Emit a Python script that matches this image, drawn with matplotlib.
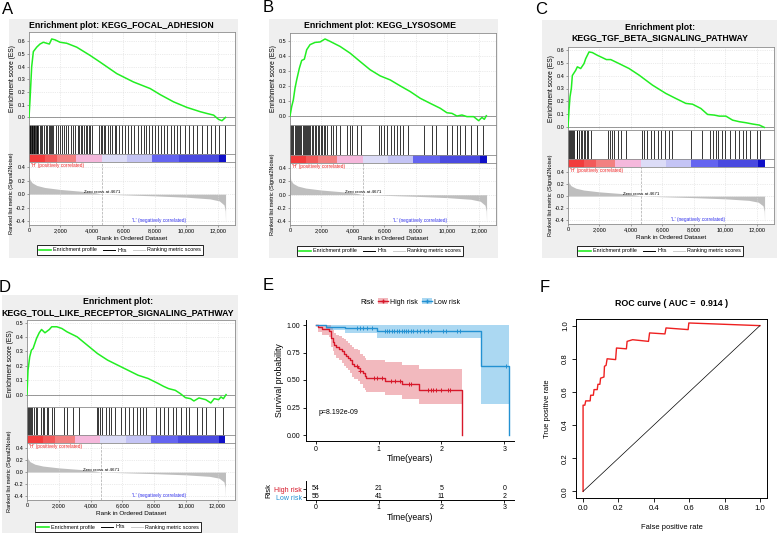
import numpy as np
import matplotlib
matplotlib.use('Agg')
import matplotlib.pyplot as plt
from matplotlib.patches import Rectangle, Patch
from matplotlib.lines import Line2D
from matplotlib.ticker import FixedLocator, FixedFormatter

W, H = 779, 534
plt.rcParams['font.family'] = ['Liberation Sans', 'DejaVu Sans']

# ---------------- GSEA data ----------------
rank_ticks = [0, 2000, 4000, 6000, 8000, 10000, 12000]
rank_tick_labels = ['0', '2,000', '4,000', '6,000', '8,000', '10,000', '12,000']
zero_cross = 4671

metric_rank = [0, 50, 200, 500, 1000, 2000, 3000, 4000, 4671, 6000, 8000, 10000, 11500, 12100, 12400, 12480, 12500]
metric_val = [0.30, 0.22, 0.17, 0.13, 0.10, 0.07, 0.05, 0.03, 0.0, -0.01, -0.025, -0.045, -0.07, -0.10, -0.16, -0.25, -0.42]

cb_edges = [0, 1000, 1750, 3020, 4620, 6220, 7815, 9520, 12075, 12500]
cb_colors = ['#f23c3c', '#f25a5a', '#f28080', '#f5b8dc', '#dcdcf7', '#c4c4f5', '#6464f0', '#4a4ae0', '#1010c8']

title_A = ['Enrichment plot: KEGG_FOCAL_ADHESION']
es_rank_A = [0, 64, 170, 276, 490, 700, 913, 1125, 1295, 1444, 1656, 1975, 2400, 3036, 3885, 4522, 5584, 6645, 7707, 8344, 9193, 10042, 10892, 11316, 11741, 12059, 12272, 12500]
es_val_A = [0, 0.136, 0.40, 0.52, 0.555, 0.58, 0.594, 0.586, 0.58, 0.62, 0.613, 0.594, 0.586, 0.555, 0.49, 0.437, 0.346, 0.28, 0.228, 0.18, 0.123, 0.079, 0.045, 0.031, 0.018, -0.016, -0.026, 0.0]
hits_A = [10, 40, 80, 120, 160, 200, 240, 290, 330, 380, 430, 480, 540, 600, 700, 780, 850, 950, 1050,
          1150, 1250, 1350, 1420, 1480, 1550, 1700, 1850, 1950, 2100, 2250, 2350, 2500, 2650, 2800, 2950,
          3100, 3150, 3300, 3400, 3500, 3600, 3700, 3800, 3900, 4000, 4450, 4550, 4650, 4750, 4850, 5000,
          5150, 5300, 5450, 5550, 5700, 5900, 6100, 6300, 6500, 6700, 6900, 7100, 7300, 7450, 7600, 7800,
          8000, 8200, 8400, 8600, 8800, 9000, 9200, 9400, 9600, 9900, 10200, 10400, 10700, 11000, 11300,
          11600, 11800, 12100, 12450]

title_B = ['Enrichment plot: KEGG_LYSOSOME']
es_rank_B = [0, 106, 212, 318, 425, 594, 743, 913, 1062, 1274, 1592, 1911, 2229, 2548, 3185, 3822, 4459, 5096, 5732, 6369, 7006, 7643, 8280, 8917, 9554, 9979, 10297, 10616, 10934, 11253, 11677, 11996, 12208, 12357, 12484]
es_val_B = [0, 0.063, 0.108, 0.186, 0.242, 0.32, 0.372, 0.381, 0.444, 0.478, 0.493, 0.496, 0.516, 0.50, 0.466, 0.421, 0.365, 0.31, 0.269, 0.242, 0.202, 0.164, 0.119, 0.085, 0.052, 0.022, 0.018, 0.0, 0.007, -0.004, -0.004, -0.031, -0.009, -0.022, 0.002]
hits_B = [20, 80, 150, 220, 300, 360, 420, 500, 560, 650, 720, 800, 870, 950, 1000, 1080, 1150, 1230,
          1300, 1400, 1480, 1560, 1650, 1750, 1850, 1950, 2050, 2150, 2250, 2330, 2600, 2750, 2900, 3200,
          3650, 3800, 3950, 4250, 4500, 5650, 5800, 6000, 6200, 6400, 6600, 6800, 7000, 7200, 7500, 8500,
          9050, 9300, 10000, 10300, 10600, 10800, 11100, 11500, 11900, 12300]

title_C = ['Enrichment plot:', 'KEGG_TGF_BETA_SIGNALING_PATHWAY']
es_rank_C = [0, 64, 127, 212, 276, 488, 594, 807, 1019, 1125, 1338, 1550, 1868, 2187, 2442, 2718, 3248, 3885, 4522, 5372, 6221, 6858, 7495, 7919, 8450, 8875, 9299, 9618, 10042, 10467, 10892, 11316, 11741, 12166, 12484]
es_val_C = [0, 0.133, 0.236, 0.30, 0.40, 0.44, 0.467, 0.454, 0.492, 0.53, 0.582, 0.577, 0.556, 0.538, 0.523, 0.523, 0.492, 0.454, 0.403, 0.326, 0.262, 0.223, 0.185, 0.179, 0.146, 0.10, 0.095, 0.087, 0.087, 0.056, 0.044, 0.036, 0.026, 0.018, 0.0]
hits_C = [20, 70, 110, 160, 230, 300, 400, 550, 600, 700, 800, 900, 1000, 1100, 1200, 1300, 1450, 2550,
          2650, 2800, 2950, 3200, 3400, 3700, 4700, 4850, 5000, 5300, 5500, 5700, 5900, 6150, 6400, 6600,
          7800, 8500, 9000, 9200, 9400, 9550, 9800, 10000, 10300, 10600, 10900, 11100, 11300, 11600, 12000, 12200]

title_D = ['Enrichment plot:', 'KEGG_TOLL_LIKE_RECEPTOR_SIGNALING_PATHWAY']
es_rank_D = [0, 64, 171, 277, 384, 597, 768, 917, 1130, 1407, 1557, 1876, 2196, 2516, 3156, 3795, 4435, 5075, 5714, 6354, 6994, 7633, 8273, 8593, 8913, 9339, 9659, 9979, 10299, 10512, 10832, 11258, 11578, 11791, 12068, 12217, 12367, 12537]
es_val_D = [0, 0.17, 0.263, 0.309, 0.321, 0.39, 0.43, 0.453, 0.43, 0.453, 0.472, 0.472, 0.46, 0.437, 0.402, 0.344, 0.286, 0.24, 0.205, 0.17, 0.135, 0.112, 0.077, 0.058, 0.042, 0.03, 0.007, -0.021, -0.028, -0.044, -0.023, -0.035, -0.058, -0.028, -0.035, -0.016, -0.028, 0.0]
hits_D = [0, 60, 120, 180, 250, 320, 420, 550, 650, 900, 1000, 1100, 1250, 1350, 1550, 1700, 2350, 2550,
          2900, 3300, 4400, 4500, 4600, 4750, 5000, 5150, 5300, 5550, 5900, 6200, 6450, 6700, 6900, 7100,
          7300, 7500, 8100, 8400, 8600, 8900, 9200, 9400, 9700, 10000, 10200, 10700, 11000, 11300, 11850, 12350]

# ---------------- KM data ----------------
red_time = [0, 0.037, 0.105, 0.21, 0.237, 0.25, 0.27, 0.295, 0.33, 0.37, 0.42, 0.447, 0.48, 0.51, 0.54, 0.58, 0.615, 0.67, 0.71, 0.75, 0.78, 0.805, 1.105, 1.37, 1.65, 2.33]
red_surv = [1.0, 0.98, 0.963, 0.945, 0.91, 0.88, 0.85, 0.82, 0.80, 0.78, 0.76, 0.74, 0.72, 0.70, 0.68, 0.65, 0.63, 0.61, 0.58, 0.56, 0.54, 0.515, 0.49, 0.465, 0.41, 0.0]
red_upper = [1.0, 1.0, 1.0, 1.0, 0.99, 0.97, 0.95, 0.93, 0.91, 0.90, 0.88, 0.87, 0.85, 0.84, 0.82, 0.80, 0.78, 0.77, 0.74, 0.72, 0.70, 0.68, 0.66, 0.64, 0.60, 0.60]
red_lower = [1.0, 0.94, 0.91, 0.89, 0.84, 0.80, 0.76, 0.73, 0.70, 0.68, 0.65, 0.63, 0.61, 0.59, 0.56, 0.53, 0.51, 0.49, 0.46, 0.43, 0.41, 0.39, 0.36, 0.33, 0.28, 0.28]
red_censor = [0.66, 0.71, 0.92, 0.97, 1.05, 1.2, 1.26, 1.34, 1.48, 1.51, 1.79, 1.84, 1.87, 1.92, 2.0, 2.1, 2.13]

blue_time = [0, 0.16, 0.47, 0.97, 2.63, 3.08]
blue_surv = [1.0, 0.98, 0.97, 0.945, 0.63, 0.0]
blue_upper = [1.0, 1.0, 1.0, 1.0, 1.0, 1.0]
blue_lower = [1.0, 0.955, 0.924, 0.879, 0.28, 0.28]
blue_censor = [0.66, 0.71, 0.76, 0.82, 0.89, 1.105, 1.14, 1.17, 1.21, 1.25, 1.29, 1.33, 1.37, 1.41, 1.44,
               1.47, 1.51, 1.55, 1.61, 1.66, 1.72, 1.79, 1.84, 2.03, 2.08, 2.24, 2.29, 3.03]

risk_groups = ['High risk', 'Low risk']
risk_times = [0, 1, 2, 3]
risk_high = [54, 21, 5, 0]
risk_low = [55, 41, 11, 2]
p_text = 'p=8.192e-09'

# ---------------- ROC data ----------------
roc_fpr = [0, 0, 0.01, 0.015, 0.04, 0.043, 0.058, 0.062, 0.08, 0.084, 0.095, 0.099, 0.118, 0.121, 0.13, 0.136, 0.184, 0.189, 0.245, 0.249, 0.28, 0.37, 0.376, 0.463, 0.469, 0.594, 0.598, 1.0]
roc_tpr = [0, 0.52, 0.52, 0.546, 0.546, 0.58, 0.58, 0.614, 0.614, 0.646, 0.646, 0.683, 0.69, 0.755, 0.76, 0.80, 0.795, 0.865, 0.86, 0.905, 0.915, 0.905, 0.956, 0.95, 0.986, 0.976, 1.016, 1.0]
roc_ticks = [0.0, 0.2, 0.4, 0.6, 0.8, 1.0]
auc_text = 'ROC curve ( AUC =  0.914 )'

fig = plt.figure(figsize=(W / 100, H / 100), dpi=100)


def px_axes(x0, y0, x1, y1, **kw):
    return fig.add_axes([x0 / W, 1 - y1 / H, (x1 - x0) / W, (y1 - y0) / H], **kw)


def style_gsea(ax):
    for s in ax.spines.values():
        s.set_color('#8c8c8c')
        s.set_linewidth(0.6)
    ax.tick_params(length=1.5, width=0.5, color='#777777', labelsize=4.0, pad=1)


def gsea_panel(bg, titles, title_y, title_cx, xs, es_y, hit_y, cb_y, met_y, xlabel_pad,
               es_rank, es_val, es_ylim, es_ticks, hits, leg_c):
    # gray background
    fig.patches.append(Rectangle((bg[0] / W, 1 - bg[3] / H), (bg[2] - bg[0]) / W, (bg[3] - bg[1]) / H,
                                 transform=fig.transFigure, facecolor='#efefef', edgecolor='none', zorder=-5))
    for t, ty in zip(titles, title_y):
        fig.text(title_cx / W, 1 - ty / H, t, ha='center', va='center', fontsize=6.3, fontweight='bold')
    xlim = (0, 13100)
    # ES
    ax = px_axes(xs[0], es_y, xs[1], hit_y)
    ax.plot(es_rank, es_val, color='#22ee22', lw=1.1, zorder=3)
    ax.axhline(0, color='#888888', lw=0.6)
    ax.set_xlim(*xlim)
    ax.set_ylim(*es_ylim)
    ax.set_yticks(es_ticks)
    ax.set_yticklabels(['%.1f' % v for v in es_ticks])
    ax.xaxis.set_major_locator(FixedLocator(rank_ticks))
    ax.tick_params(axis='x', labelbottom=False, length=0)
    ax.grid(True, color='#d8d8d8', ls=':', lw=0.5)
    ax.set_ylabel('Enrichment score (ES)', fontsize=4.8, labelpad=1.5)
    style_gsea(ax)
    # hits
    axh = px_axes(xs[0], hit_y, xs[1], cb_y)
    axh.vlines(hits, 0, 1, color='black', lw=0.55)
    axh.set_xlim(*xlim)
    axh.set_ylim(0, 1)
    axh.set_xticks([])
    axh.set_yticks([])
    style_gsea(axh)
    # color bar
    axc = px_axes(xs[0], cb_y, xs[1], cb_y + 8)
    for i, c in enumerate(cb_colors):
        axc.axvspan(cb_edges[i], cb_edges[i + 1], color=c, lw=0)
    axc.set_xlim(*xlim)
    axc.set_xticks([])
    axc.set_yticks([])
    style_gsea(axc)
    # metric
    axm = px_axes(xs[0], cb_y + 8, xs[1], met_y)
    axm.fill_between(metric_rank, 0, metric_val, color='#bebebe', lw=0)
    axm.axvline(zero_cross, color='#aaaaaa', lw=0.5, ls='--')
    axm.set_xlim(*xlim)
    axm.set_ylim(-0.46, 0.48)
    axm.set_yticks([-0.4, -0.2, 0.0, 0.2, 0.4])
    axm.set_yticklabels(['-0.4', '-0.2', '0.0', '0.2', '0.4'])
    axm.xaxis.set_major_locator(FixedLocator(rank_ticks))
    axm.xaxis.set_major_formatter(FixedFormatter(rank_tick_labels))
    axm.grid(True, color='#d8d8d8', ls=':', lw=0.5)
    axm.text(zero_cross, 0.005, 'Zero cross at %d' % zero_cross, ha='center', va='bottom', fontsize=3.2)
    axm.text(150, 0.47, "'H' (positively correlated)", color='#ee2222', ha='left', va='top', fontsize=3.4)
    axm.text(8300, -0.39, "'L' (negatively correlated)", color='#3333ee', ha='center', va='center', fontsize=3.4)
    axm.set_xlabel('Rank in Ordered Dataset', fontsize=4.6, labelpad=xlabel_pad)
    axm.set_ylabel('Ranked list metric (Signal2Noise)', fontsize=4.0, labelpad=1.5)
    style_gsea(axm)
    # legend
    handles = [Line2D([], [], color='#22ee22', lw=1.2), Line2D([], [], color='black', lw=0.7),
               Line2D([], [], color='#cccccc', lw=0.7)]
    fig.legend(handles, ['Enrichment profile', 'Hits', 'Ranking metric scores'], loc='center',
               bbox_to_anchor=(leg_c[0] / W, 1 - leg_c[1] / H), ncol=3, fontsize=3.9, frameon=True,
               fancybox=False, edgecolor='black', framealpha=1, handlelength=2.2, columnspacing=1.2,
               handletextpad=0.4, borderpad=0.4).get_frame().set_linewidth(0.6)


gsea_panel((9, 19, 238, 258), title_A, [25], 121, (29, 235), 32, 125, 154, 225, 2,
           es_rank_A, es_val_A, (-0.06, 0.675), [0.0, 0.1, 0.2, 0.3, 0.4, 0.5, 0.6], hits_A, (120, 250))
gsea_panel((269, 19, 498, 258), title_B, [25], 380, (290, 496), 33, 125, 155, 225, 2,
           es_rank_B, es_val_B, (-0.06, 0.556), [0.0, 0.1, 0.2, 0.3, 0.4, 0.5], hits_B, (380, 251))
gsea_panel((542, 20, 777, 258), title_C, [27, 38], 660, (568, 774), 47, 130, 159, 224, 2,
           es_rank_C, es_val_C, (-0.02, 0.62), [0.0, 0.1, 0.2, 0.3, 0.4, 0.5, 0.6], hits_C, (660, 251))
gsea_panel((2, 295, 238, 533), title_D, [302, 313], 118, (27, 235), 320, 407, 435, 500, 2,
           es_rank_D, es_val_D, (-0.086, 0.519), [0.0, 0.1, 0.2, 0.3, 0.4, 0.5], hits_D, (118, 527))

# ---------------- KM panel E ----------------
RED = '#d7182a'
BLUE = '#2391d2'
axE = px_axes(306, 319.5, 514, 440.5)
axE.fill_between(red_time, red_lower, red_upper, step='post', color=RED, alpha=0.3, lw=0)
axE.fill_between(blue_time, blue_lower, blue_upper, step='post', color='#2e9fdf', alpha=0.4, lw=0)
axE.step(red_time, red_surv, where='post', color=RED, lw=1.0)
axE.step(blue_time, blue_surv, where='post', color=BLUE, lw=1.0)


def surv_at(times, surv, t):
    idx = np.searchsorted(np.array(times), np.array(t), side='right') - 1
    return np.array(surv)[idx]


axE.plot(red_censor, surv_at(red_time, red_surv, red_censor), '+', color=RED, ms=3.5, mew=0.7)
axE.plot(blue_censor, surv_at(blue_time, blue_surv, blue_censor), '+', color=BLUE, ms=3.5, mew=0.7)
axE.text(0.05, 0.2, p_text, fontsize=5, va='center', ha='left')
axE.set_xlim(-0.155, 3.155)
axE.set_ylim(-0.05, 1.05)
axE.set_xticks(risk_times)
axE.set_yticks([0, 0.25, 0.5, 0.75, 1.0])
axE.set_yticklabels(['0.00', '0.25', '0.50', '0.75', '1.00'])
for s in ['top', 'right']:
    axE.spines[s].set_visible(False)
for s in ['left', 'bottom']:
    axE.spines[s].set_linewidth(0.7)
axE.tick_params(labelsize=5, length=2.5, width=0.6, pad=1.5)
axE.set_xlabel('Time(years)', fontsize=6.3, labelpad=1)
axE.set_ylabel('Survival probability', fontsize=6.3, labelpad=2)

fig.text(360 / W, 1 - 302 / H, 'Risk', fontsize=5, ha='left', va='center')
hE = [(Patch(facecolor=RED, alpha=0.3, edgecolor='none'), Line2D([], [], color=RED, marker='+', lw=1.0, ms=3.5)),
      (Patch(facecolor='#2e9fdf', alpha=0.4, edgecolor='none'), Line2D([], [], color=BLUE, marker='+', lw=1.0, ms=3.5))]
fig.legend(hE, risk_groups, loc='center left', bbox_to_anchor=(375 / W, 1 - 302 / H), ncol=2,
           fontsize=5, frameon=False, handlelength=1.4, handleheight=0.9, handletextpad=0.3,
           columnspacing=0.6, borderpad=0)

axT = px_axes(306, 481, 514, 500)
for t, nh, nl in zip(risk_times, risk_high, risk_low):
    axT.text(t, 1, str(nh), ha='center', va='center', fontsize=5)
    axT.text(t, 0, str(nl), ha='center', va='center', fontsize=5)
axT.set_xlim(-0.155, 3.155)
axT.set_ylim(-0.375, 2.0)
axT.set_yticks([1, 0])
axT.set_yticklabels(risk_groups)
for lab, c in zip(axT.get_yticklabels(), [RED, BLUE]):
    lab.set_color(c)
axT.set_xticks(risk_times)
for s in ['top', 'right']:
    axT.spines[s].set_visible(False)
for s in ['left', 'bottom']:
    axT.spines[s].set_linewidth(0.7)
axT.tick_params(labelsize=5, length=2, width=0.6, pad=1)
axT.set_xlabel('Time(years)', fontsize=6.3, labelpad=1)
axT.set_ylabel('Risk', fontsize=5.5, labelpad=1)

# ---------------- ROC panel F ----------------
axF = px_axes(576, 319, 767, 498)
axF.plot(roc_fpr, roc_tpr, color='#ee2020', lw=1.0)
axF.plot([0, 1], [0, 1], color='black', lw=0.5)
axF.set_xlim(-0.04, 1.04)
axF.set_ylim(-0.04, 1.04)
axF.set_xticks(roc_ticks)
axF.set_yticks(roc_ticks)
axF.set_xticklabels(['%.1f' % v for v in roc_ticks])
axF.set_yticklabels(['%.1f' % v for v in roc_ticks], rotation=90, va='center')
for s in axF.spines.values():
    s.set_linewidth(0.7)
axF.tick_params(labelsize=5.6, length=3, width=0.6, pad=2)
axF.set_xlabel('False positive rate', fontsize=5.4, labelpad=9)
axF.set_ylabel('True positive rate', fontsize=5.4, labelpad=8)
axF.set_title(auc_text, fontsize=6.4, fontweight='bold', pad=9)

# panel letters
for lab, x, y in [('A', 8, 9), ('B', 268, 8), ('C', 541, 10), ('D', 5, 287), ('E', 268, 285), ('F', 545, 287)]:
    fig.text(x / W, 1 - y / H, lab, fontsize=12, ha='center', va='center')

fig.savefig('out.png', dpi=100, facecolor='white')
